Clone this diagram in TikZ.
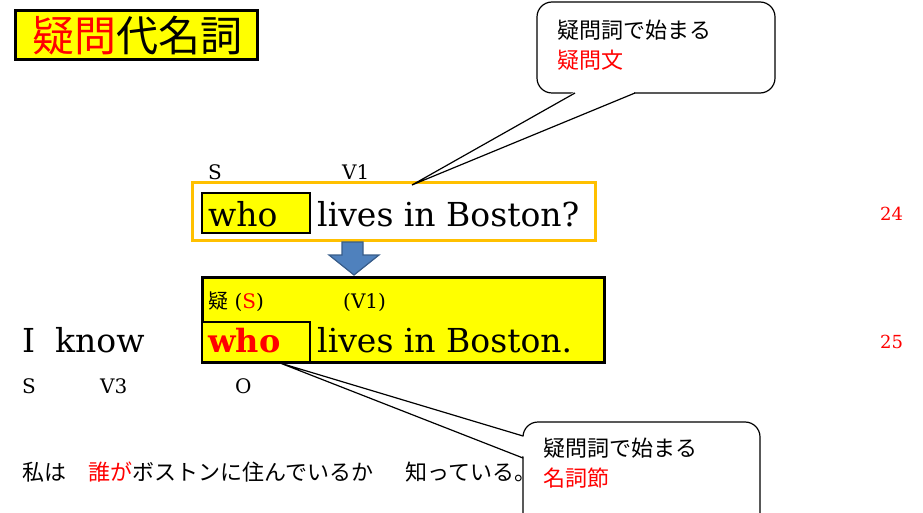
\documentclass[tikz,border=0pt]{standalone}
\usepackage{fontspec}
\setmainfont{DejaVu Serif}
\newfontfamily\jp{Noto Sans CJK JP}
\definecolor{hlyellow}{RGB}{255,255,0}
\definecolor{orangeb}{RGB}{255,192,0}
\definecolor{arrowfill}{RGB}{79,129,189}
\definecolor{arrowline}{RGB}{56,93,138}
\definecolor{jred}{RGB}{255,0,0}
\newcommand{\fs}[1]{\fontsize{#1}{#1}\selectfont}
\begin{document}
\begin{tikzpicture}[x=1pt,y=-1pt,
  txt/.style={inner sep=0pt, anchor=base west},
  jtxt/.style={inner sep=0pt, anchor=west, font=\jp\fs{22}},
  callbox/.style={draw=black, line width=1.2pt, fill=white, rounded corners=15pt},
  tail/.style={draw=black, line width=1.2pt},
  hlbox/.style={fill=hlyellow, draw=black, line width=3pt},
  whobox/.style={fill=hlyellow, draw=black, line width=2.5pt}]
\useasboundingbox (0,0) rectangle (923,513);

% title
\draw[hlbox] (15,11) rectangle (257,60);
\node[inner sep=0pt, font=\jp\fs{42}] (title) at (137,36) {\textcolor{jred}{疑問}代名詞};

% top sentence
\draw[draw=orangeb, line width=3pt, fill=white] (192,183) rectangle (595,240);
\draw[whobox] (202,193) rectangle (310,233);
\node[txt, font=\fs{20}] (s1) at (208,180) {S};
\node[txt, font=\fs{20}] (v1) at (342,180) {V1};
\node[txt, font=\fs{33}] (who1) at (208,226) {who};
\node[txt, font=\fs{33}] (rest1) at (317,226) {lives in Boston?};
\node[txt, font=\fs{18}, text=jred] (n24) at (880,220) {24};

% arrow
\draw[fill=arrowfill, draw=arrowline, line width=1.2pt]
  (342,242) -- (363,242) -- (363,255) -- (379,255) -- (354,275) -- (329,255) -- (342,255) -- cycle;

% lower sentence
\draw[hlbox] (202,277) rectangle (604,362);
\draw[whobox] (202,322) rectangle (310,362);
\node[txt, font=\fs{20}] (s2) at (208,308) {{\jp 疑} (\textcolor{jred}{S})};
\node[txt, font=\fs{20}] (v2) at (343,308) {(V1)};
\node[txt, font=\bfseries\fs{32}, text=jred] (who2) at (208,352) {who};
\node[txt, font=\fs{33}] (rest2) at (317,352) {lives in Boston.};
\node[txt, font=\fs{33}] (iknow) at (22,352) {I\hspace{20pt}know};
\node[txt, font=\fs{20}] (s3) at (22,393) {S};
\node[txt, font=\fs{20}] (v3) at (100,393) {V3};
\node[txt, font=\fs{20}] (o3) at (235,393) {O};
\node[txt, font=\fs{18}, text=jred] (n25) at (880,348) {25};

% Japanese translation
\node[jtxt] (jp1) at (22,472) {私は};
\node[jtxt] (jp2) at (88,472) {\textcolor{jred}{誰が}ボストンに住んでいるか};
\node[jtxt] (jp3) at (405,472) {知っている。};

% callout 1
\draw[callbox] (537,2) rectangle (775,93);
\coordinate (c1a) at (575,93);
\coordinate (c1b) at (635,93);
\coordinate (c1t) at (412,185);
\fill[white] (c1t) -- (576,91) -- (634,91) -- cycle;
\fill[white] (576,90.5) rectangle (634,95);
\draw[tail] (c1a) -- (c1t) -- (c1b);
\node[jtxt] (q1) at (557,30) {疑問詞で始まる};
\node[jtxt, text=jred] (q2) at (557,60) {疑問文};

% callout 2
\draw[callbox] (523,422) rectangle (760,530);
\coordinate (c2a) at (523,436);
\coordinate (c2b) at (523,458);
\coordinate (c2t) at (280,363);
\fill[white] (c2t) -- (525,437) -- (525,457) -- cycle;
\draw[tail] (c2a) -- (c2t) -- (c2b);
\node[jtxt] (q3) at (543,448) {疑問詞で始まる};
\node[jtxt, text=jred] (q4) at (543,478) {名詞節};
\end{tikzpicture}
\end{document}
